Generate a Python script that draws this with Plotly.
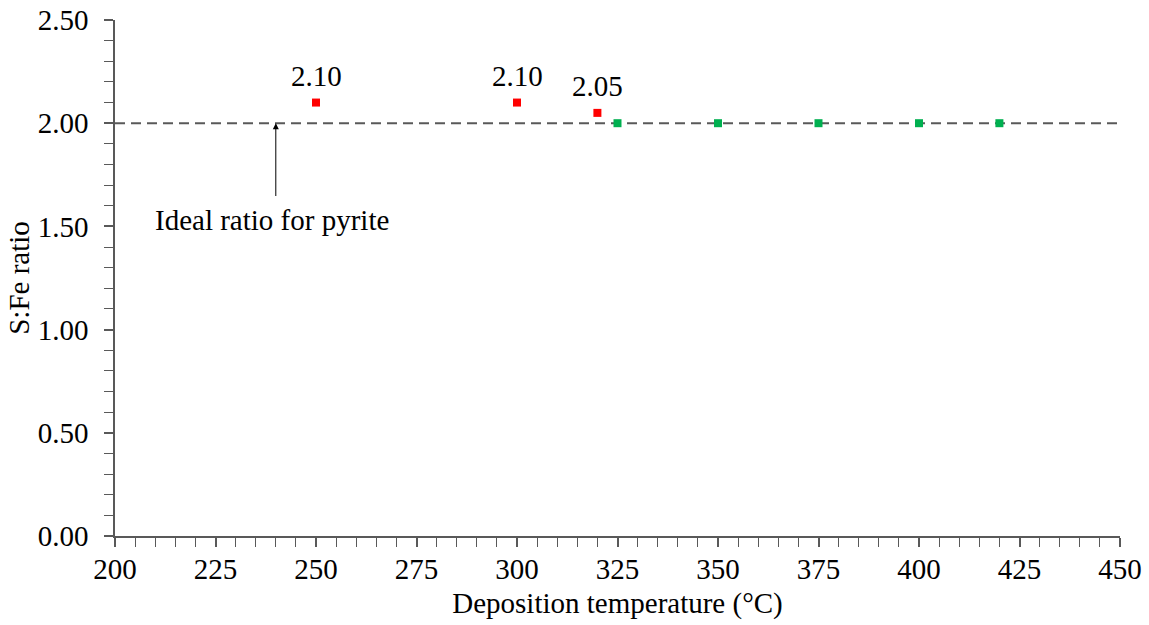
import plotly.graph_objects as go

# Deposition temperatures (°C) and measured S:Fe ratios
temp_sulfur_rich = [250, 300, 320]
ratio_sulfur_rich = [2.10, 2.10, 2.05]
temp_stoich = [325, 350, 375, 400, 420]
ratio_stoich = [2.00, 2.00, 2.00, 2.00, 2.00]

ideal_ratio = 2.00
x_range = [200, 450]
y_range = [0, 2.5]

FONT = "Liberation Serif, Times New Roman, serif"
FS = 29
AXIS_COLOR = "#595959"

fig = go.Figure()

# Reference line for stoichiometric pyrite
fig.add_trace(go.Scatter(
    x=[x_range[0], x_range[1] + 1.5], y=[ideal_ratio, ideal_ratio],
    mode="lines", line=dict(color="#595959", width=2, dash="10px,6px"),
    hoverinfo="skip", showlegend=False, cliponaxis=False,
))

fig.add_trace(go.Scatter(
    x=temp_stoich, y=ratio_stoich, mode="markers",
    marker=dict(symbol="square", size=8, color="#00B050"),
    showlegend=False,
))

fig.add_trace(go.Scatter(
    x=temp_sulfur_rich, y=ratio_sulfur_rich, mode="markers",
    marker=dict(symbol="square", size=8, color="#FF0000"),
    showlegend=False,
))

# Value labels above the sulfur-rich points
for t, r in zip(temp_sulfur_rich, ratio_sulfur_rich):
    fig.add_annotation(
        x=t, y=r, xref="x", yref="y", text=f"{r:.2f}", showarrow=False,
        yanchor="middle", yshift=27, font=dict(family=FONT, size=FS, color="black"),
    )

fig.add_annotation(
    x=240, y=ideal_ratio, ax=240, ay=1.64, xref="x", yref="y", axref="x", ayref="y",
    showarrow=True, arrowhead=2, arrowsize=1.2, arrowwidth=1, arrowcolor="black",
    text="",
)
fig.add_annotation(
    x=239, y=1.53, xref="x", yref="y", showarrow=False,
    text="Ideal ratio for pyrite", font=dict(family=FONT, size=FS, color="black"),
)

fig.update_layout(
    width=1149, height=625,
    margin=dict(l=115, r=29, t=20, b=89),
    plot_bgcolor="white", paper_bgcolor="white",
    font=dict(family=FONT, size=FS, color="black"),
)

fig.update_xaxes(
    range=x_range, dtick=25, tick0=200, showgrid=False, zeroline=False,
    showline=True, linecolor=AXIS_COLOR, linewidth=1.5, automargin=False,
    ticks="outside", ticklen=9, tickcolor=AXIS_COLOR, tickwidth=1.5,
    minor=dict(dtick=5, ticks="outside", ticklen=9, tickcolor=AXIS_COLOR, tickwidth=1),
    title=dict(text="Deposition temperature (°C)", font=dict(family=FONT, size=FS), standoff=9),
    tickfont=dict(family=FONT, size=FS), ticklabelstandoff=-3,
)
fig.update_yaxes(
    range=y_range, dtick=0.5, tick0=0, tickformat=".2f", showgrid=False, zeroline=False,
    showline=True, linecolor=AXIS_COLOR, linewidth=1.5, automargin=False,
    ticks="outside", ticklen=9, tickcolor=AXIS_COLOR, tickwidth=1.5,
    minor=dict(dtick=0.1, ticks="outside", ticklen=9, tickcolor=AXIS_COLOR, tickwidth=1),
    title=dict(text="S:Fe ratio", font=dict(family=FONT, size=FS), standoff=0),
    tickfont=dict(family=FONT, size=FS), ticklabelstandoff=10,
)

fig.write_html("out.html")
